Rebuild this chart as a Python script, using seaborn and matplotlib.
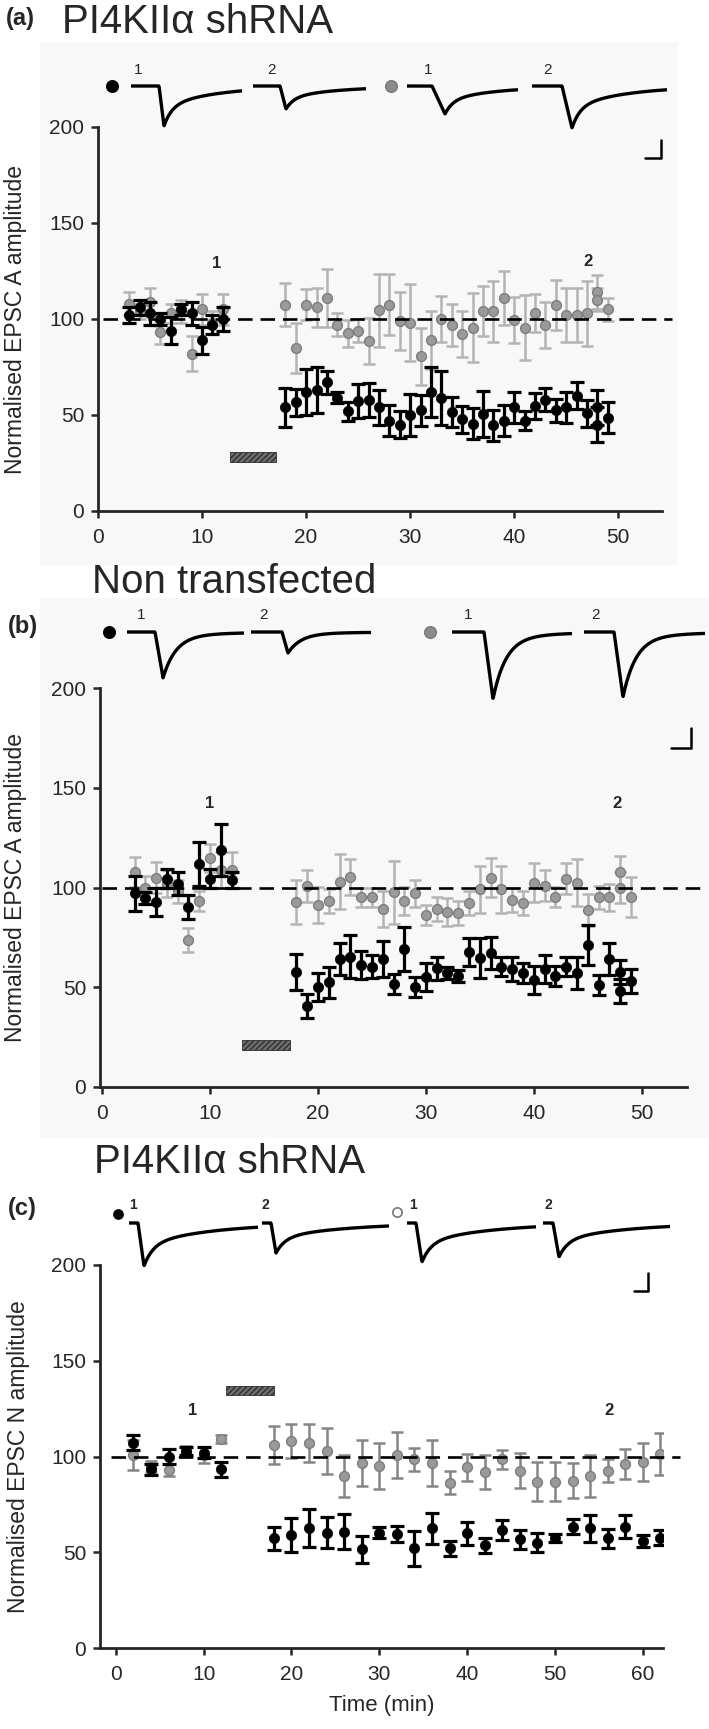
import numpy as np
import matplotlib
matplotlib.use("Agg")
import matplotlib.pyplot as plt
from matplotlib.patches import Rectangle
import seaborn as sns

sns.set_style("ticks")
plt.rcParams["font.family"] = ["Liberation Sans", "DejaVu Sans"]

# ---------------- panel (a): PI4KIIa shRNA, EPSC A ----------------
a_base_t = [3, 4, 5, 6, 7, 8, 9, 10, 11, 12]
a_base_black = [102, 106, 103, 100, 94, 105, 103, 89, 97, 100]
a_base_black_err = [4, 4, 6, 3, 7, 3, 6, 7, 5, 6]
a_base_grey = [108, 104, 109, 93, 103, 104, 82, 105, 98, 105]
a_base_grey_err = [6, 4, 7, 6, 5, 6, 9, 8, 6, 8]

a_post_t = [18, 19, 20, 21, 22, 23, 24, 25, 26, 27, 28, 29, 30, 31, 32, 33, 34,
            35, 36, 37, 38, 39, 40, 41, 42, 43, 44, 45, 46, 47, 48, 48, 49]
a_post_grey = [107.5, 85, 107.5, 106, 111, 97, 92.5, 94, 88.5, 104.5, 107.5, 99,
               98, 80.5, 89, 100, 97, 92, 95.5, 104, 104, 111, 99.5, 95.5, 103,
               97, 107.5, 102, 102, 103, 114, 110, 105]
a_post_grey_err = [11, 13, 8, 10, 15, 6, 7, 6, 12, 19, 16, 15, 20, 15, 15, 12, 11,
                   12, 18, 13, 16, 14, 12, 17, 10, 12, 13, 14, 14, 17, 9, 6, 6]
a_post_black = [54, 56.7, 62, 63, 67, 59, 52, 57.4, 57.7, 54, 47, 45, 50, 52.5,
                62, 59, 51.6, 47.7, 45.4, 50.7, 44.7, 47, 54, 47, 54.7, 58, 52.5,
                54, 60, 51, 54, 45, 48.6]
a_post_black_err = [10, 7, 12, 12, 6, 3, 5, 9, 9, 9, 8, 7, 11, 8, 13, 14, 8, 7,
                    8, 12, 8, 8, 8, 5, 7, 6, 6, 8, 7, 7, 9, 9, 8]
a_drug = (12.7, 17.1, 25.5, 30.7)          # t start, t end, y low, y high
a_marks = [("1", 11.4, 129), ("2", 47.1, 130)]

# ---------------- panel (b): non transfected, EPSC A ----------------
b_base_t = [3, 4, 5, 6, 7, 8, 9, 10, 11, 12]
b_base_black = [97, 94.8, 92.8, 104.5, 102, 90, 112, 104.5, 118.7, 104]
b_base_black_err = [9, 3, 7, 5, 6, 6, 11, 5, 13, 4]
b_base_grey = [108, 100, 105, 102, 98, 73.7, 93, 115, 109, 109]
b_base_grey_err = [7.5, 6, 8, 7, 6, 6, 5, 7, 9, 9]

b_post_t = [18, 19, 20, 21, 22, 23, 24, 25, 26, 27, 28, 29, 30, 31, 32, 33, 34,
            35, 36, 37, 38, 39, 40, 41, 42, 43, 44, 45, 46, 47, 48, 48, 49]
b_post_grey = [92.8, 100.8, 91.3, 93.3, 103, 105.4, 95, 95, 89.4, 97.5, 93.3, 97,
               86.4, 89.4, 87.7, 87.4, 92.4, 99, 105, 99, 93.6, 92.4, 102.5, 101,
               95.3, 104.5, 102.5, 88.7, 95, 95, 107.6, 100, 95.3]
b_post_grey_err = [11, 8, 9, 6, 14, 9, 5, 5, 9, 16, 7, 7, 5, 6, 7, 6, 6, 12, 10,
                   12, 6, 6, 10, 8, 5, 8, 12, 8, 6, 7, 8, 8, 10]
b_post_black = [57.7, 40.5, 50.2, 52.4, 64, 65.4, 61, 60.4, 64, 51.6, 69.3, 50,
                55, 59.4, 57, 55.6, 67.9, 64.5, 67, 60.4, 59.3, 57, 53.5, 59, 55.6,
                60.4, 57, 71, 51, 64, 57.5, 48, 53]
b_post_black_err = [9, 6, 7, 8, 8, 11, 7, 6, 9, 5, 11, 5, 7, 6, 3, 3, 7, 10, 8,
                    5, 6, 5, 7, 7, 5, 5, 8, 10, 5, 8, 6, 6, 6]
b_drug = (13.0, 17.4, 18.7, 23.7)
b_marks = [("1", 10, 142), ("2", 47.7, 142)]

# ---------------- panel (c): PI4KIIa shRNA, EPSC N ----------------
c_base_t = [2, 4, 6, 8, 10, 12]
c_base_black = [107.2, 93.3, 99.9, 103, 102, 93.3]
c_base_black_err = [4, 3, 4, 2, 3, 4]
c_base_grey = [100.8, 94.7, 92.9, 102.5, 100.8, 109.1]
c_base_grey_err = [8, 3, 3, 3, 4, 2]

c_post_t = [18, 20, 22, 24, 26, 28, 30, 32, 34, 36, 38, 40, 42, 44, 46, 48, 50,
            52, 54, 56, 58, 60, 62]
c_post_grey = [106, 108, 107, 103, 90, 96.7, 95, 100.9, 98.6, 96.7, 86.3, 94.3,
               92, 98.6, 92.6, 86.9, 86.9, 87.4, 89.8, 92.6, 96.1, 97.3, 101.3]
c_post_grey_err = [10, 9, 10, 12, 11, 12, 12, 12, 6, 12, 6, 7, 9, 5, 9, 10, 10,
                   9, 11, 6, 8, 10, 11]
c_post_black = [57.3, 59, 62.5, 60.2, 60.8, 51.5, 60.2, 59.5, 52, 62.5, 52, 59.8,
                53.7, 61.6, 56.8, 55, 57.3, 63.4, 62.5, 57.3, 63.4, 56, 57.6]
c_post_black_err = [6, 9, 10, 8, 9, 7, 3, 4, 9, 8, 4, 6, 4, 5, 5, 5, 2, 4, 7, 5,
                    6, 3, 4]
c_drug = (12.6, 18.0, 132, 137)
c_marks = [("1", 8.8, 124), ("2", 56.1, 124)]

# example EPSC traces above each panel: peak amplitudes (px)
a_trace_amp = [40, 23, 28, 42]
b_trace_amp = [46, 21, 67, 65]
c_trace_amp = [43, 30, 39, 34]

W, H = 709, 1729
fig = plt.figure(figsize=(W / 100, H / 100), dpi=100)
fig.patch.set_facecolor("white")

# pixel-space layer for titles, traces, background
bg = fig.add_axes([0, 0, 1, 1], zorder=0)
bg.set_xlim(0, W)
bg.set_ylim(H, 0)
bg.axis("off")
bg.add_patch(Rectangle((40, 42), 638, 523, color="#f8f8f8", lw=0, zorder=0))
bg.add_patch(Rectangle((40, 598), 669, 540, color="#f8f8f8", lw=0, zorder=0))


def epsc(x, onset, amp, rise, tau, tau2, frac):
    d = x - onset
    y = np.zeros_like(x)
    m1 = (d > 0) & (d <= rise)
    y[m1] = amp * d[m1] / rise
    m2 = d > rise
    dd = d[m2] - rise
    y[m2] = amp * (frac * np.exp(-dd / tau) + (1 - frac) * np.exp(-dd / tau2))
    return y


def draw_traces(base, amps, spans, onsets, rises, tau, tau2, frac):
    for amp, (x0, x1), on, r in zip(amps, spans, onsets, rises):
        x = np.linspace(x0, x1, 400)
        bg.plot(x, base + epsc(x, on, amp, r, tau, tau2, frac), color="black",
                lw=2.4, solid_capstyle="butt", zorder=3)


def scale_bar(x0, x1, y0, y1):
    bg.plot([x0, x1, x1], [y1, y1, y0], color="black", lw=1.8, zorder=3)


# (a) header
bg.text(6, 18, "(a)", fontsize=17, fontweight="bold", va="center")
bg.text(62, 22, "PI4KII\u03b1 shRNA", fontsize=29, va="center")
draw_traces(86, a_trace_amp, [(131, 242), (253, 366), (407, 518), (532, 667)],
            [159, 280, 432, 562], [5, 6, 13, 10], 8, 55, 0.5)
bg.scatter([112], [86], s=70, color="black", zorder=3)
bg.scatter([391], [86], s=70, color="#8c8c8c", edgecolor="#777777", zorder=3)
for lab, x in zip(["1", "2", "1", "2"], [138, 271, 428, 547]):
    bg.text(x, 70, lab, fontsize=11, ha="center", va="center")
scale_bar(645, 661, 140, 158)

# (b) header
bg.text(92, 582, "Non transfected", fontsize=29, va="center")
bg.text(8, 626, "(b)", fontsize=17, fontweight="bold", va="center")
draw_traces(632, b_trace_amp, [(127, 244), (251, 371), (452, 572), (584, 705)],
            [155, 282, 484, 614], [8, 6, 9, 9], 13, 60, 0.92)
bg.scatter([109], [632], s=70, color="black", zorder=3)
bg.scatter([430], [632], s=70, color="#8c8c8c", edgecolor="#777777", zorder=3)
for lab, x in zip(["1", "2", "1", "2"], [141, 264, 468, 596]):
    bg.text(x, 615, lab, fontsize=11, ha="center", va="center")
scale_bar(671, 691, 728, 748)

# (c) header
bg.text(94, 1162, "PI4KII\u03b1 shRNA", fontsize=29, va="center")
bg.text(8, 1208, "(c)", fontsize=17, fontweight="bold", va="center")
draw_traces(1223, c_trace_amp, [(129, 258), (262, 389), (407, 536), (543, 670)],
            [138, 271, 416, 553], [6, 5, 6, 6], 9, 70, 0.5)
bg.scatter([118], [1214], s=45, color="black", zorder=3)
bg.scatter([397], [1212], s=45, facecolor="white", edgecolor="#777777",
           linewidth=1.2, zorder=3)
for lab, x in zip(["1", "2", "1", "2"], [133, 265, 413, 548]):
    bg.text(x, 1205, lab, fontsize=10, fontweight="bold", ha="center", va="center")
scale_bar(634, 648, 1273, 1291)


def panel(rect, xlim, xticks, ylabel, base_t, bb, bbe, bgv, bge,
          post_t, pb, pbe, pg, pge, drug, marks, dash_x, grey_err_col):
    ax = fig.add_axes(rect, zorder=1)
    ax.set_facecolor("none")
    t_all = base_t + post_t
    g_all = bgv + pg
    ge_all = bge + pge
    b_all = bb + pb
    be_all = bbe + pbe
    ax.errorbar(t_all, g_all, yerr=ge_all, fmt="none", ecolor=grey_err_col,
                elinewidth=1.8, capsize=4.5, capthick=1.8, zorder=2)
    sns.scatterplot(x=t_all, y=g_all, ax=ax, color="#9a9a9a", edgecolor="#7d7d7d",
                    linewidth=1.0, s=50, zorder=3)
    ax.plot(dash_x, [100, 100], color="black", lw=1.9, dashes=(5.5, 3),
            clip_on=False, zorder=4)
    ax.errorbar(t_all, b_all, yerr=be_all, fmt="none", ecolor="black",
                elinewidth=2.3, capsize=5, capthick=2.3, zorder=5)
    sns.scatterplot(x=t_all, y=b_all, ax=ax, color="black", edgecolor="black",
                    linewidth=0.5, s=55, zorder=6)
    t0, t1, y0, y1 = drug
    ax.bar([t0], [y1 - y0], width=t1 - t0, bottom=y0, align="edge",
           color="#6e6e6e", edgecolor="#2e2e2e", hatch="//////", linewidth=0.6,
           zorder=3)
    for lab, x, y in marks:
        ax.text(x, y, lab, fontsize=12, fontweight="bold", ha="center",
                va="center")
    ax.set_xlim(*xlim)
    ax.set_ylim(0, 200)
    ax.set_xticks(xticks)
    ax.set_yticks([0, 50, 100, 150, 200])
    sns.despine(ax=ax)
    for s in ["left", "bottom"]:
        ax.spines[s].set_linewidth(2.0)
    ax.tick_params(axis="both", width=1.8, length=5, labelsize=15)
    ax.tick_params(axis="x", pad=7)
    ax.tick_params(axis="y", pad=5)
    ax.set_ylabel(ylabel, fontsize=16.5)
    ax.yaxis.set_label_coords(-0.125, 0.5)
    return ax


panel([98 / W, 1 - 511 / H, 564 / W, 384 / H], (0, 54.2), range(0, 51, 10),
      "Normalised EPSC A amplitude", a_base_t, a_base_black, a_base_black_err,
      a_base_grey, a_base_grey_err, a_post_t, a_post_black, a_post_black_err,
      a_post_grey, a_post_grey_err, a_drug, a_marks, [0.5, 55.2], "#b4b4b4")

panel([100 / W, 1 - 1087 / H, 587 / W, 399 / H], (-0.2, 54.2), range(0, 51, 10),
      "Normalised EPSC A amplitude", b_base_t, b_base_black, b_base_black_err,
      b_base_grey, b_base_grey_err, b_post_t, b_post_black, b_post_black_err,
      b_post_grey, b_post_grey_err, b_drug, b_marks, [0, 55.5], "#b4b4b4")

axc = panel([100 / W, 1 - 1648 / H, 563 / W, 383 / H], (-1.8, 62.3),
            range(0, 61, 10), "Normalised EPSC N amplitude", c_base_t,
            c_base_black, c_base_black_err, c_base_grey, c_base_grey_err,
            c_post_t, c_post_black, c_post_black_err, c_post_grey,
            c_post_grey_err, c_drug, c_marks, [-0.5, 64.2], "#858585")
axc.set_xlabel("Time (min)", fontsize=16, labelpad=8)

fig.savefig("out.png", dpi=100)
